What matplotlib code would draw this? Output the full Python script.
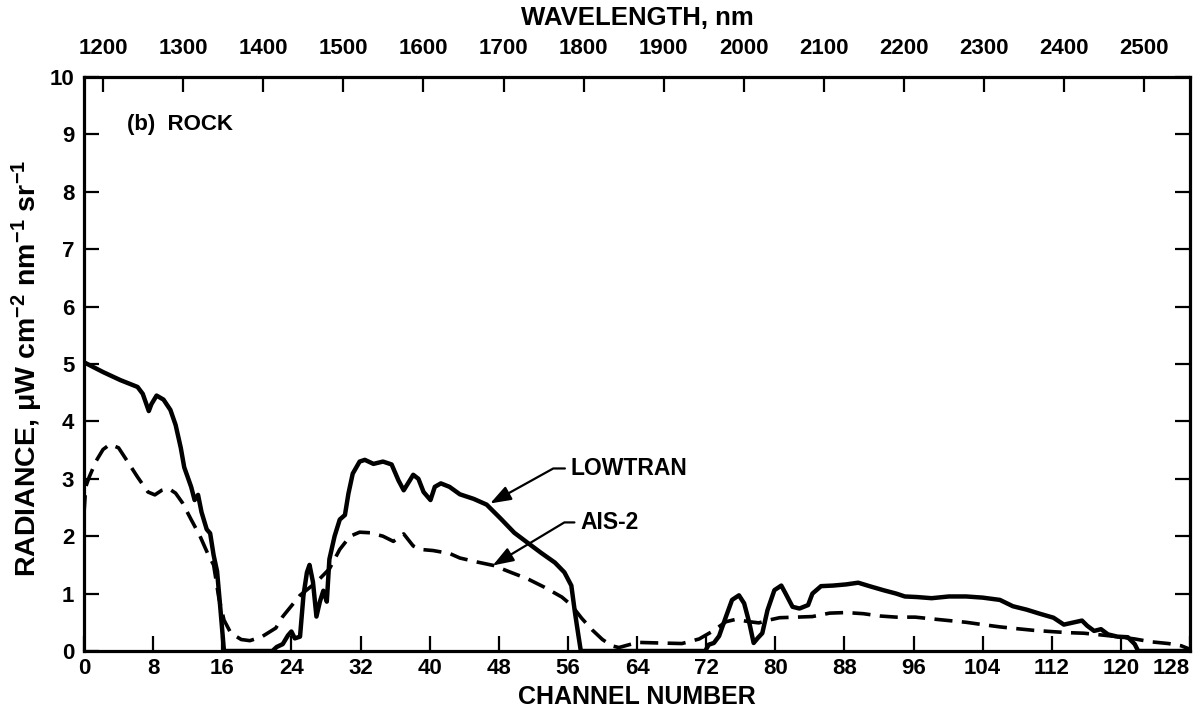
import matplotlib
matplotlib.use("Agg")
import matplotlib.pyplot as plt

plt.rcParams['font.family'] = ['Liberation Sans', 'DejaVu Sans']
plt.rcParams['font.weight'] = 'bold'
plt.rcParams['mathtext.fontset'] = 'custom'
plt.rcParams['mathtext.rm'] = 'Liberation Sans:bold'
plt.rcParams['mathtext.it'] = 'Liberation Sans:bold'
plt.rcParams['mathtext.bf'] = 'Liberation Sans:bold'
plt.rcParams['mathtext.sf'] = 'Liberation Sans:bold'

# LOWTRAN model radiance (solid)
lowtran_ch = [0, 2.2, 4.2, 6.2, 6.8, 7.5, 7.8, 8.4, 9.2, 10.0, 10.6, 11.2, 11.6, 12.0,
              12.4, 12.8, 13.2, 13.6, 14.2, 14.6, 15.0, 15.4, 15.8, 16.2, 21.8, 22.3,
              23.0, 23.6, 24.0, 24.4, 25.0, 25.4, 25.8, 26.1, 26.5, 26.9, 27.3, 27.7,
              28.1, 28.4, 29.0, 29.6, 30.2, 30.6, 31.1, 31.9, 32.5, 33.5, 34.6, 35.6,
              36.4, 37.0, 37.7, 38.1, 38.7, 39.3, 40.1, 40.6, 41.3, 42.3, 43.5, 45.1,
              46.6, 48.2, 49.8, 51.3, 52.9, 54.5, 55.6, 56.4, 56.8, 57.2, 57.5, 71.9,
              72.3, 72.9, 73.5, 74.3, 75.0, 75.8, 76.4, 77.0, 77.5, 78.0, 78.5, 79.1,
              79.9, 80.7, 81.2, 82.0, 82.8, 83.8, 84.3, 85.3, 86.7, 88.2, 89.6, 90.9,
              92.5, 94.0, 95.0, 96.4, 98.1, 100.1, 102.1, 104.0, 106.0, 107.5, 109.1,
              110.6, 112.2, 113.4, 114.6, 115.5, 116.1, 116.9, 117.7, 118.5, 119.6,
              120.8, 121.6, 122.0, 128.0]
lowtran_val = [5.03, 4.86, 4.72, 4.60, 4.48, 4.18, 4.30, 4.45, 4.38, 4.20, 3.94, 3.54, 3.20, 3.03,
               2.86, 2.63, 2.72, 2.42, 2.12, 2.05, 1.67, 1.39, 0.71, 0.0, 0.0, 0.07,
               0.12, 0.27, 0.34, 0.22, 0.25, 0.97, 1.37, 1.50, 1.20, 0.60, 0.86, 1.05,
               0.86, 1.60, 2.00, 2.29, 2.37, 2.74, 3.09, 3.30, 3.33, 3.26, 3.30, 3.25,
               2.97, 2.80, 2.97, 3.07, 3.00, 2.77, 2.63, 2.86, 2.92, 2.86, 2.73, 2.65,
               2.55, 2.31, 2.06, 1.89, 1.71, 1.54, 1.37, 1.14, 0.69, 0.29, 0.0, 0.0,
               0.11, 0.14, 0.26, 0.60, 0.89, 0.97, 0.83, 0.49, 0.14, 0.23, 0.31, 0.71,
               1.06, 1.14, 1.00, 0.77, 0.74, 0.80, 1.00, 1.13, 1.14, 1.16, 1.19, 1.13,
               1.06, 1.00, 0.95, 0.94, 0.92, 0.95, 0.95, 0.93, 0.89, 0.78, 0.72,
               0.65, 0.58, 0.46, 0.50, 0.53, 0.44, 0.35, 0.38, 0.29, 0.25,
               0.24, 0.12, 0.0, 0.0]

# AIS-2 measured radiance (dashed)
ais_ch = [0, 0.2, 0.6, 1.4, 2.2, 3.0, 4.0, 5.0, 6.2, 7.4, 8.2, 9.0, 9.8, 10.6, 11.4,
          12.4, 13.4, 14.4, 15.0, 15.6, 16.2, 17.0, 18.2, 19.2, 20.6, 22.2, 23.0, 25.0,
          26.9, 28.4, 29.6, 30.8, 31.9, 33.1, 34.6, 35.8, 37.0, 38.1, 38.9, 40.4, 42.3,
          43.5, 45.5, 47.4, 49.4, 51.3, 53.3, 55.3, 56.4, 57.6, 58.8, 60.0, 61.1, 61.9,
          63.1, 64.1, 66.5, 69.2, 71.2, 72.7, 74.3, 75.4, 77.0, 78.1, 79.3, 80.5, 82.4,
          84.3, 86.3, 88.2, 90.2, 92.1, 94.0, 96.2, 98.1, 100.1, 102.1, 104.0, 106.0,
          107.9, 109.9, 111.8, 113.8, 115.7, 117.7, 119.6, 121.6, 123.5, 125.5, 127.0, 128.0]
ais_val = [2.40, 2.86, 3.03, 3.31, 3.51, 3.60, 3.54, 3.31, 3.03, 2.77, 2.72, 2.80, 2.83, 2.75, 2.58,
           2.29, 2.01, 1.67, 1.50, 0.93, 0.54, 0.31, 0.20, 0.18, 0.25, 0.40, 0.60, 0.97,
           1.20, 1.43, 1.77, 2.00, 2.07, 2.06, 2.00, 1.91, 2.04, 1.83, 1.77, 1.75, 1.70,
           1.62, 1.55, 1.49, 1.37, 1.26, 1.11, 0.94, 0.80, 0.57, 0.37, 0.20, 0.09, 0.06,
           0.11, 0.15, 0.14, 0.13, 0.21, 0.34, 0.51, 0.55, 0.51, 0.49, 0.54, 0.58, 0.59,
           0.60, 0.66, 0.67, 0.65, 0.61, 0.59, 0.59, 0.56, 0.53, 0.50, 0.46, 0.42,
           0.39, 0.36, 0.34, 0.32, 0.31, 0.28, 0.25, 0.21, 0.16, 0.13, 0.09, 0.03]

channel_ticks = list(range(0, 129, 8))
wavelength_ticks = list(range(1200, 2501, 100))
radiance_ticks = list(range(0, 11))


def ch_to_wl(ch):
    return 1200 + (ch - 2.2) / 0.0927


def wl_to_ch(wl):
    return 2.2 + (wl - 1200) * 0.0927


fig = plt.figure(figsize=(11.99, 7.17), dpi=100)
ax = fig.add_axes([84 / 1199, 1 - 651 / 717, (1190 - 84) / 1199, (651 - 77) / 717])

ax.plot(lowtran_ch, lowtran_val, color='black', lw=3.2, solid_joinstyle='round')
ax.plot(ais_ch, ais_val, color='black', lw=2.6, dashes=(5, 2.6))

ax.set_xlim(0, 128)
ax.set_ylim(0, 10)
ax.set_xticks(channel_ticks)
ax.set_yticks(radiance_ticks)
ax.tick_params(direction='in', length=11, width=1.6, labelsize=16, pad=5,
               right=True, labelright=False)
ax.tick_params(axis='y', pad=7)
for s in ax.spines.values():
    s.set_linewidth(2.3)
# last channel label sits flush against the right frame, as in the original
ax.get_xticklabels()[-1].set_horizontalalignment('right')

ax.set_xlabel('CHANNEL NUMBER', fontsize=18, fontweight='bold', labelpad=4)

sec = ax.secondary_xaxis('top', functions=(ch_to_wl, wl_to_ch))
sec.set_xticks(wavelength_ticks)
sec.tick_params(direction='in', length=11, width=1.6, labelsize=16, pad=13)
sec.set_xlabel('WAVELENGTH, nm', fontsize=18.5, fontweight='bold', labelpad=9)

fig.text(27 / 1199, 1 - 368 / 717,
         r'RADIANCE, $\mu$W cm$^{-2}$ nm$^{-1}$ sr$^{-1}$',
         rotation=90, ha='center', va='center', fontsize=20.5, fontweight='bold')

ax.text(5.0, 9.17, '(b)  ROCK', fontsize=16, fontweight='bold', ha='left', va='center')

ax.annotate('LOWTRAN', xy=(47.0, 2.57), xytext=(56.3, 3.18), fontsize=16.5,
            fontweight='bold', ha='left', va='center',
            arrowprops=dict(arrowstyle='-|>,head_length=0.7,head_width=0.25',
                            connectionstyle='angle,angleA=0,angleB=29,rad=0',
                            color='black', lw=1.6, mutation_scale=18, shrinkA=2, shrinkB=0))
ax.annotate('AIS-2', xy=(47.3, 1.49), xytext=(57.4, 2.24), fontsize=16.5,
            fontweight='bold', ha='left', va='center',
            arrowprops=dict(arrowstyle='-|>,head_length=0.7,head_width=0.25',
                            connectionstyle='angle,angleA=0,angleB=31,rad=0',
                            color='black', lw=1.6, mutation_scale=18, shrinkA=2, shrinkB=0))

fig.savefig('out.png', dpi=100)
